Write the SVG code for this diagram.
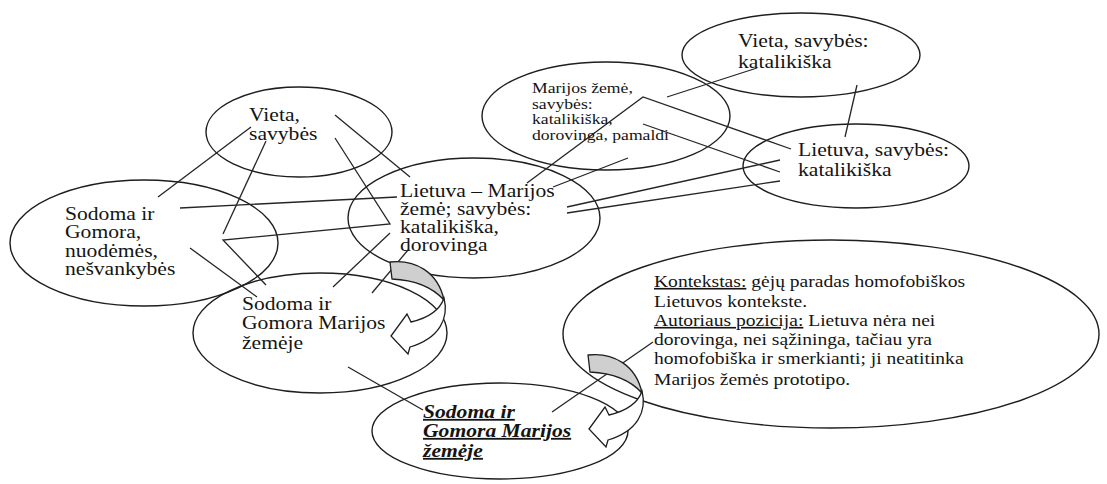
<svg xmlns="http://www.w3.org/2000/svg" width="1107" height="484" viewBox="0 0 1107 484">
  <style>
    .shape { fill: none; stroke: #1e1e1e; stroke-width: 1.4; }
    .link { fill: none; stroke: #252525; stroke-width: 1.3; }
    .t { font-family: "Liberation Serif", "Times New Roman", serif; font-size: 18px; fill: #141414; }
    .sm { font-size: 14.7px; }
    .md { font-size: 16.3px; }
    .u { text-decoration: underline; }
    .em { font-weight: bold; font-style: italic; text-decoration: underline; }
    .back { fill: #cfcfcf; stroke: #1e1e1e; stroke-width: 1.3; stroke-linejoin: round; }
    .front { fill: #ffffff; stroke: #1e1e1e; stroke-width: 1.3; stroke-linejoin: miter; }
  </style>
  <defs>
    <!-- curved turn-back arrow: shaded back ribbon plus white front with head -->
    <g id="turn-arrow">
      <path class="back" d="M0,0 C25,-3 48,10 54,38 C43,26 25,18 2,17 Z"/>
      <path class="front" d="M54,36 C59,56 50,76 20,85 L18,92 L1,74 L17,52 L21,60 C38,56 50,48 54,36 Z"/>
    </g>
  </defs>

  <rect width="1107" height="484" fill="#ffffff"/>

  <!-- node outlines -->
  <g id="node-vieta-left"><ellipse class="shape" cx="299" cy="132" rx="93" ry="45"/></g>
  <g id="node-sodoma-left"><ellipse class="shape" cx="144" cy="243" rx="134" ry="63"/></g>
  <g id="node-lietuva-marijos"><ellipse class="shape" cx="474" cy="218" rx="126" ry="60"/></g>
  <g id="node-marijos-zeme"><ellipse class="shape" cx="606" cy="116" rx="124" ry="54"/></g>
  <g id="node-vieta-right"><ellipse class="shape" cx="801" cy="55" rx="119" ry="42"/></g>
  <g id="node-lietuva-right"><ellipse class="shape" cx="856" cy="166" rx="113" ry="42"/></g>
  <g id="node-sodoma-mid"><ellipse class="shape" cx="320" cy="333" rx="127" ry="60"/></g>
  <g id="node-kontekstas"><ellipse class="shape" cx="831" cy="334" rx="268" ry="94"/></g>
  <g id="node-sodoma-bottom"><ellipse class="shape" cx="500" cy="431" rx="128" ry="48"/></g>

  <!-- connectors -->
  <g id="connectors">
    <line class="link" x1="158" y1="197" x2="251" y2="127"/>
    <line class="link" x1="266" y1="141" x2="223" y2="234"/>
    <line class="link" x1="335" y1="115" x2="410" y2="177"/>
    <polyline class="link" points="335,138 390,224 223,240 266,285"/>
    <line class="link" x1="180" y1="208" x2="397" y2="197"/>
    <line class="link" x1="190" y1="248" x2="257" y2="297"/>
    <line class="link" x1="333" y1="287" x2="390" y2="233"/>
    <line class="link" x1="372" y1="293" x2="408" y2="250"/>
    <polyline class="link" points="527,183 643,97 791,149"/>
    <line class="link" x1="553" y1="187" x2="628" y2="158"/>
    <line class="link" x1="667" y1="97" x2="757" y2="68"/>
    <line class="link" x1="643" y1="124" x2="780" y2="172"/>
    <line class="link" x1="567" y1="207" x2="780" y2="160"/>
    <line class="link" x1="567" y1="213" x2="780" y2="181"/>
    <line class="link" x1="857" y1="85" x2="845" y2="137"/>
    <line class="link" x1="348" y1="367" x2="423" y2="410"/>
    <line class="link" x1="552" y1="412" x2="653" y2="342"/>
  </g>

  <!-- turn arrows -->
  <g id="arrow-upper"><use href="#turn-arrow" transform="translate(390,262)"/></g>
  <g id="arrow-lower"><use href="#turn-arrow" transform="translate(588,355)"/></g>

  <!-- labels -->
  <g id="label-vieta-left">
    <text class="t" transform="matrix(1.2,0,0,1,249,0)"><tspan x="0" y="121">Vieta,</tspan><tspan x="0" y="140">savybės</tspan></text>
  </g>
  <g id="label-sodoma-left">
    <text class="t" transform="matrix(1.2,0,0,1,65,0)"><tspan x="0" y="220">Sodoma ir</tspan><tspan x="0" y="238.5">Gomora,</tspan><tspan x="0" y="257">nuodėmės,</tspan><tspan x="0" y="275.5">nešvankybės</tspan></text>
  </g>
  <g id="label-lietuva-marijos">
    <text class="t" transform="matrix(1.2,0,0,1,400,0)"><tspan x="0" y="197">Lietuva – Marijos</tspan><tspan x="0" y="215">žemė; savybės:</tspan><tspan x="0" y="233">katalikiška,</tspan><tspan x="0" y="251">dorovinga</tspan></text>
  </g>
  <g id="label-marijos-zeme">
    <text class="t sm" transform="matrix(1.2,0,0,1,532,0)"><tspan x="0" y="93">Marijos žemė,</tspan><tspan x="0" y="109">savybės:</tspan><tspan x="0" y="124.5">katalikiška,</tspan><tspan x="0" y="140">dorovinga, pamaldi</tspan></text>
  </g>
  <g id="label-vieta-right">
    <text class="t" transform="matrix(1.2,0,0,1,738,0)"><tspan x="0" y="47">Vieta, savybės:</tspan><tspan x="0" y="68">katalikiška</tspan></text>
  </g>
  <g id="label-lietuva-right">
    <text class="t" transform="matrix(1.2,0,0,1,798,0)"><tspan x="0" y="156">Lietuva, savybės:</tspan><tspan x="0" y="176">katalikiška</tspan></text>
  </g>
  <g id="label-sodoma-mid">
    <text class="t" transform="matrix(1.2,0,0,1,242,0)"><tspan x="0" y="310">Sodoma ir</tspan><tspan x="0" y="329">Gomora Marijos</tspan><tspan x="0" y="349">žemėje</tspan></text>
  </g>
  <g id="label-kontekstas">
    <text class="t md" transform="matrix(1.2,0,0,1,654,0)"><tspan x="0" y="287"><tspan class="u">Kontekstas:</tspan> gėjų paradas homofobiškos</tspan><tspan x="0" y="307">Lietuvos kontekste.</tspan><tspan x="0" y="326"><tspan class="u">Autoriaus pozicija:</tspan> Lietuva nėra nei</tspan><tspan x="0" y="345">dorovinga, nei sąžininga, tačiau yra</tspan><tspan x="0" y="364">homofobiška ir smerkianti; ji neatitinka</tspan><tspan x="0" y="385">Marijos žemės prototipo.</tspan></text>
  </g>
  <g id="label-sodoma-bottom">
    <text class="t em" transform="matrix(1.2,0,0,1,423,0)"><tspan x="0" y="418">Sodoma ir</tspan><tspan x="0" y="437">Gomora Marijos</tspan><tspan x="0" y="457">žemėje</tspan></text>
  </g>
</svg>
